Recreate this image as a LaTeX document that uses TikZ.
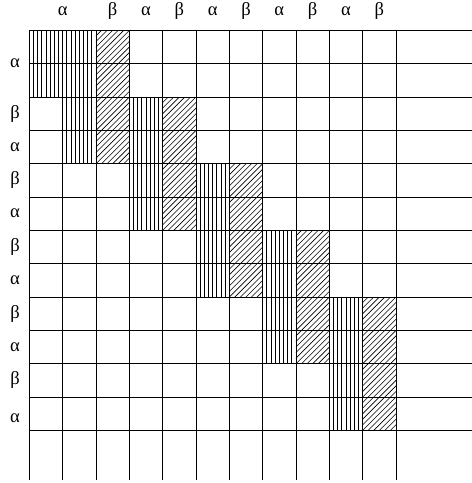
\documentclass[tikz,border=0pt]{standalone}
\usepackage{fontspec}
\setmainfont{Liberation Serif}
\begin{document}
\begin{tikzpicture}[x=0.6cm, y=0.6cm, every node/.style={font=\fontsize{9.5}{11}\selectfont, inner sep=0pt}, gridline/.style={line width=0.5pt}, hatchline/.style={line width=0.4pt}, diagline/.style={line width=0.3pt}]
        % Ramka obrazu
        \useasboundingbox (-0.88, 0.91) rectangle (13.28, -13.58);

        % Pierwszy blok (kolumna 0)
        \foreach \k in {1,...,7}
            \draw[hatchline] (\k/8, 0) -- (\k/8, -2);

        % Bloki wzdłuż przekątnej: pionowe i ukośne kreskowanie
        \foreach \c/\r in {1/0, 3/2, 5/4, 7/6, 9/8} {
            \foreach \k in {1,...,7}
                \draw[hatchline] ({\c+\k/8}, -\r) -- ({\c+\k/8}, {-\r-4});
            \begin{scope}
                \clip (\c+1, -\r) rectangle (\c+2, {-\r-4});
                \foreach \k in {-24,...,6}
                    \draw[diagline] ({\c+1+(\k)/6}, {-\r-4}) -- ++(4,4);
            \end{scope}
        }

        % Siatka
        \foreach \r in {0,...,12}
            \draw[gridline] (0, -\r) -- (13.28, -\r);
        \foreach \c in {0,...,11}
            \draw[gridline] (\c, 0) -- (\c, -13.49);

        % Etykiety kolumn
        \node (c0) at (1, 0.58) {α};
        \foreach \c/\t in {2/β, 3/α, 4/β, 5/α, 6/β, 7/α, 8/β, 9/α, 10/β}
            \node (c\c) at (\c+0.5, 0.58) {\t};

        % Etykiety wierszy
        \node (r0) at (-0.43, -1) {α};
        \foreach \r/\t in {2/β, 3/α, 4/β, 5/α, 6/β, 7/α, 8/β, 9/α, 10/β}
            \node (r\r) at (-0.43, {-\r-0.5}) {\t};
        \node (r11) at (-0.43, -11.65) {α};
    \end{tikzpicture}
\end{document}
